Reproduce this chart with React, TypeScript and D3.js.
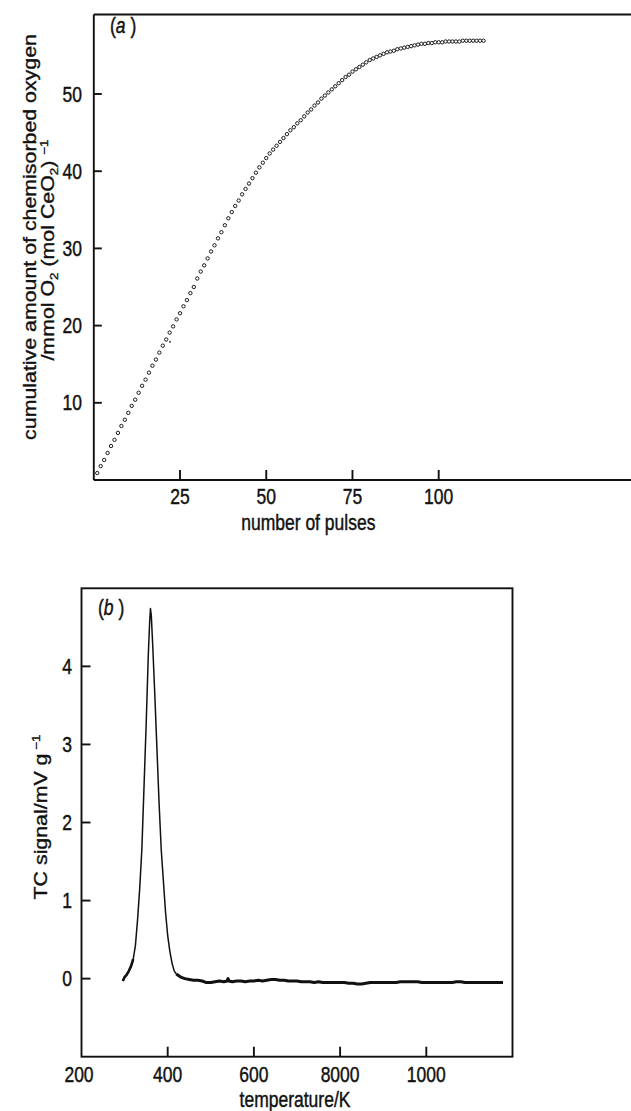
import React from "react";
import * as d3 from "d3";

// ---------- Panel (a) data ----------
const pulseNumbers: number[] = Array.from({ length: 113 }, (_, i) => i + 1);
const cumulativeO2: number[] = [
  0.9, 1.8, 2.6, 3.5, 4.4, 5.2, 6.1, 7.0, 7.8, 8.7,
  9.6, 10.4, 11.3, 12.2, 13.0, 13.9, 14.8, 15.6, 16.5, 17.4,
  18.2, 19.1, 19.9, 20.8, 21.6, 22.5, 23.3, 24.2, 25.0, 26.1,
  27.0, 27.8, 28.7, 29.6, 30.4, 31.3, 32.1, 33.0, 33.9, 34.7,
  35.5, 36.2, 37.0, 37.7, 38.4, 39.1, 39.8, 40.5, 41.1, 41.7,
  42.3, 42.8, 43.3, 43.8, 44.3, 44.8, 45.3, 45.7, 46.2, 46.6,
  47.1, 47.6, 48.0, 48.5, 48.9, 49.4, 49.8, 50.2, 50.6, 51.0,
  51.4, 51.8, 52.2, 52.5, 52.9, 53.2, 53.5, 53.8, 54.1, 54.4,
  54.6, 54.8, 55.0, 55.2, 55.4, 55.5, 55.6, 55.8, 55.9, 56.0,
  56.1, 56.2, 56.3, 56.4, 56.5, 56.5, 56.6, 56.6, 56.7, 56.7,
  56.7, 56.8, 56.8, 56.8, 56.8, 56.8, 56.9, 56.9, 56.9, 56.9,
  56.9, 56.9, 56.9,
];
const strayPulse: number[] = [22.1];
const strayValue: number[] = [17.9];
const pulseTicks: number[] = [25, 50, 75, 100];
const o2Ticks: number[] = [10, 20, 30, 40, 50];

// ---------- Panel (b) data ----------
const peakTemp: number[] = [
  296, 300, 305, 310, 315, 320, 325, 330, 335, 340, 345, 350, 355, 358, 360,
  362, 365, 370, 375, 380, 385, 390, 395, 400, 405, 410, 415, 420,
];
const peakSignal: number[] = [
  -0.03, 0.02, 0.05, 0.1, 0.16, 0.25, 0.42, 0.75, 1.15, 1.65, 2.45, 3.25, 4.15, 4.55, 4.74,
  4.65, 4.3, 3.65, 2.95, 2.25, 1.65, 1.25, 0.85, 0.55, 0.35, 0.2, 0.1, 0.06,
];
const startTemp: number[] = [296, 300, 305, 310, 315, 320];
const startSignal: number[] = [-0.03, 0.02, 0.05, 0.1, 0.16, 0.25];
const baseTemp: number[] = [
  420, 430, 440, 450, 460, 470, 480, 490, 500, 510, 520, 530, 538, 540, 542, 550, 560, 570, 580, 590,
  600, 610, 620, 630, 640, 650, 660, 670, 680, 690, 700, 710, 720, 730, 740, 750, 760, 770, 780, 790,
  800, 810, 820, 830, 840, 850, 860, 870, 880, 890, 900, 910, 920, 930, 940, 950, 960, 970, 980, 990,
  1000, 1010, 1020, 1030, 1040, 1050, 1060, 1070, 1080, 1090, 1100, 1110, 1120, 1130, 1140, 1150, 1160, 1170, 1178,
];
const baseSignal: number[] = [
  0.06, 0.02, 0.0, -0.01, -0.02, -0.02, -0.03, -0.05, -0.05, -0.04, -0.03, -0.04, -0.03, 0.0, -0.03, -0.04, -0.03, -0.03, -0.04, -0.03,
  -0.03, -0.02, -0.03, -0.02, -0.01, -0.01, -0.02, -0.02, -0.03, -0.03, -0.03, -0.04, -0.04, -0.04, -0.05, -0.04, -0.05, -0.05, -0.05, -0.05,
  -0.05, -0.05, -0.06, -0.06, -0.07, -0.07, -0.06, -0.05, -0.05, -0.05, -0.05, -0.05, -0.05, -0.05, -0.04, -0.04, -0.04, -0.04, -0.04, -0.05,
  -0.05, -0.05, -0.05, -0.05, -0.05, -0.05, -0.05, -0.04, -0.04, -0.05, -0.05, -0.05, -0.05, -0.05, -0.05, -0.05, -0.05, -0.05, -0.05,
];
const tempTicks: number[] = [200, 400, 600, 800, 1000];
const tempTickLabels: string[] = ["200", "400", "600", "8000", "1000"];
const signalTicks: number[] = [0, 1, 2, 3, 4];

const FONT = "'Liberation Sans', Arial, Helvetica, sans-serif";
const INK = "#111";
const SY = 1.22;

function Txt({ x, y, anchor = "start", size = 17.5, rotate = false, children }: any) {
  const tr = rotate
    ? `translate(${x},${y}) scale(1,${SY}) rotate(-90)`
    : `translate(${x},${y}) scale(1,${SY})`;
  return (
    <text
      transform={tr}
      textAnchor={anchor}
      fontFamily={FONT}
      fontSize={size}
      fill={INK}
      stroke={INK}
      strokeWidth={0.35}
    >
      {children}
    </text>
  );
}

export default function App() {
  // Panel (a) scales
  const xA = d3.scaleLinear().domain([0, 100]).range([93.8, 438.7]);
  const yA = d3.scaleLinear().domain([0, 50]).range([480, 94]);
  const aLeft = xA(0);
  const aBottom = yA(0);
  const aTop = yA(60.3);
  const aRight = 631;

  // Panel (b) scales
  const xB = d3.scaleLinear().domain([200, 1200]).range([81.5, 512.5]);
  const yB = d3.scaleLinear().domain([-1, 5]).range([1056.7, 588.3]);

  const lineB = d3
    .line<[number, number]>()
    .x((d) => xB(d[0]))
    .y((d) => yB(d[1]))
    .curve(d3.curveLinear);
  const peakPts: [number, number][] = peakTemp.map((t, i) => [t, peakSignal[i]]);
  const startPts: [number, number][] = startTemp.map((t, i) => [t, startSignal[i]]);
  const basePts: [number, number][] = baseTemp.map((t, i) => [t, baseSignal[i]]);

  return (
    <svg
      width={631}
      height={1111}
      style={{ position: "absolute", left: 0, top: 0, background: "#fff" }}
    >
      <rect x={0} y={0} width={631} height={1111} fill="#fff" />

      {/* ---------- Panel (a) ---------- */}
      <g stroke={INK} strokeWidth={1.9} fill="none">
        <line x1={aLeft} y1={aTop} x2={aRight} y2={aTop} />
        <line x1={aLeft} y1={aTop} x2={aLeft} y2={aBottom} />
        <line x1={aLeft} y1={aBottom} x2={aRight} y2={aBottom} />
        {pulseTicks.map((t) => (
          <line key={"xt" + t} x1={xA(t)} x2={xA(t)} y1={aBottom} y2={aBottom - 10} />
        ))}
        {o2Ticks.map((t) => (
          <line key={"yt" + t} x1={aLeft} x2={aLeft + 8} y1={yA(t)} y2={yA(t)} />
        ))}
      </g>
      {pulseTicks.map((t) => (
        <Txt key={"xl" + t} x={xA(t)} y={504} anchor="middle">
          {String(t)}
        </Txt>
      ))}
      {o2Ticks.map((t) => (
        <Txt key={"yl" + t} x={82} y={yA(t) + 7.6} anchor="end">
          {String(t)}
        </Txt>
      ))}
      <Txt x={308.3} y={530} anchor="middle">number of pulses</Txt>
      <Txt x={36} y={237} anchor="middle" rotate>
        cumulative amount of chemisorbed oxygen
      </Txt>
      <Txt x={54} y={250} anchor="middle" rotate>
        /mmol O<tspan fontSize={11} dy={4}>2</tspan>
        <tspan dy={-4}> (mol CeO</tspan>
        <tspan fontSize={11} dy={4}>2</tspan>
        <tspan dy={-4}>) </tspan>
        <tspan fontSize={11} dy={-6}>{"\u22121"}</tspan>
      </Txt>
      <Txt x={110} y={33}>
        (<tspan fontStyle="italic">a</tspan> )
      </Txt>
      <g fill="#fff" stroke={INK} strokeWidth={0.95}>
        {pulseNumbers.map((n, i) => (
          <circle key={"p" + n} cx={xA(n)} cy={yA(cumulativeO2[i])} r={1.7} />
        ))}
      </g>
      {strayPulse.map((p, i) => (
        <circle key={"s" + i} cx={xA(p)} cy={yA(strayValue[i])} r={0.9} fill={INK} />
      ))}

      {/* ---------- Panel (b) ---------- */}
      <rect
        x={xB(200)}
        y={yB(5)}
        width={xB(1200) - xB(200)}
        height={yB(-1) - yB(5)}
        fill="none"
        stroke={INK}
        strokeWidth={1.9}
      />
      <g stroke={INK} strokeWidth={1.9}>
        {tempTicks
          .filter((t) => t > 200)
          .map((t) => (
            <line key={"bx" + t} x1={xB(t)} x2={xB(t)} y1={yB(-1)} y2={yB(-1) - 10} />
          ))}
        {signalTicks.map((t) => (
          <line key={"by" + t} x1={xB(200)} x2={xB(200) + 9} y1={yB(t)} y2={yB(t)} />
        ))}
      </g>
      {tempTicks.map((t, i) => (
        <Txt key={"bxl" + t} x={t === 200 ? 79 : xB(t)} y={1082} anchor="middle">
          {tempTickLabels[i]}
        </Txt>
      ))}
      {signalTicks.map((t) => (
        <Txt key={"byl" + t} x={72} y={yB(t) + 7.6} anchor="end">
          {String(t)}
        </Txt>
      ))}
      <Txt x={295} y={1107} anchor="middle">temperature/K</Txt>
      <Txt x={47} y={817} anchor="middle" rotate>
        TC signal/mV g<tspan dx={3} fontSize={11} dy={-7}>{"\u22121"}</tspan>
      </Txt>
      <Txt x={98} y={615}>
        (<tspan fontStyle="italic">b</tspan> )
      </Txt>
      <path d={lineB(peakPts) || ""} fill="none" stroke={INK} strokeWidth={1.5} strokeLinejoin="round" />
      <path d={lineB(startPts) || ""} fill="none" stroke={INK} strokeWidth={2.6} strokeLinejoin="round" />
      <path d={lineB(basePts) || ""} fill="none" stroke={INK} strokeWidth={3} strokeLinejoin="round" />
    </svg>
  );
}
